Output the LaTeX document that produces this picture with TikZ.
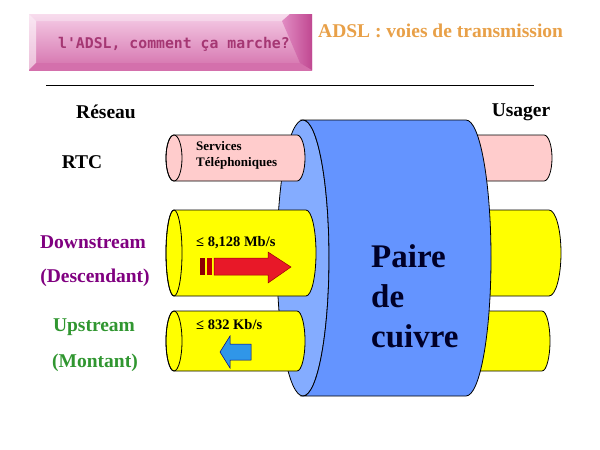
\documentclass[tikz,border=0pt]{standalone}
\usepackage{fontspec}
\setmainfont{Liberation Serif}
\newfontfamily\pixfont{DejaVu Sans Mono}
\usetikzlibrary{positioning}

\definecolor{titleOrange}{RGB}{232,160,72}
\definecolor{downPurple}{RGB}{128,0,128}
\definecolor{upGreen}{RGB}{48,150,48}
\definecolor{pairNavy}{RGB}{0,0,40}
\definecolor{tubePink}{RGB}{255,204,204}
\definecolor{tubeYellow}{RGB}{255,255,0}
\definecolor{bodyBlue}{RGB}{100,148,255}
\definecolor{capBlue}{RGB}{132,172,255}
\definecolor{arrowRed}{RGB}{232,24,40}
\definecolor{arrowBlue}{RGB}{48,150,232}
\definecolor{bannerText}{RGB}{165,55,115}
\definecolor{bannerLight}{RGB}{245,205,230}
\definecolor{bannerDark}{RGB}{212,112,172}
\definecolor{bannerMid}{RGB}{225,140,195}
\definecolor{bannerDeep}{RGB}{192,72,145}

\begin{document}
\begin{tikzpicture}
[x=1pt,y=-1pt,
  labelDecorate/.style={inner sep=0pt,font=\fontsize{19.5}{19.5}\selectfont\bfseries},%
  smallDecorate/.style={inner sep=0pt,anchor=west,font=\fontsize{13}{13}\selectfont\bfseries},%
  rateDecorate/.style={inner sep=0pt,anchor=west,font=\fontsize{14.5}{14.5}\selectfont\bfseries},%
  pairDecorate/.style={inner sep=0pt,anchor=west,text=pairNavy,font=\fontsize{33}{33}\selectfont\bfseries},%
  tubeDecorate/.style={draw=black,line width=0.8pt}]
\useasboundingbox (0,0) rectangle (600,450);
%% banner
\shade[top color=bannerLight,bottom color=bannerDark] (29,14) rectangle (312,70);
\fill[white,opacity=0.55] (29,14) -- (36,21) -- (36,63) -- (29,70) -- cycle;
\fill[white,opacity=0.3] (29,14) -- (290,14) -- (282,21) -- (36,21) -- cycle;
\fill[bannerDark] (29,70) -- (36,63) -- (300,63) -- (312,70) -- cycle;
\shade[left color=bannerMid,right color=bannerDeep] (282,21) -- (290,14) -- (312,14) -- (312,70) -- (300,63) -- cycle;
\node (Banner) at (174,44) [inner sep=0pt,text=bannerText,font=\fontsize{14.8}{14.8}\pixfont\bfseries] {l'ADSL, comment ça marche?};
\node (Title) at (318,31) [inner sep=0pt,anchor=west,text=titleOrange,font=\fontsize{19.5}{19.5}\selectfont\bfseries] {ADSL : voies de transmission};
\coordinate (RuleLeft) at (46,85);
\coordinate (RuleRight) at (534,85);
\draw[line width=0.8pt] (RuleLeft) -- (RuleRight);
%% side labels
\foreach \nodename/\x/\y/\col/\txt in {
  Reseau/106/112/black/Réseau, Usager/521/112/black/Usager,
  RTC/82/162/black/RTC, Downstream/93/242/downPurple/Downstream,
  Descendant/95/278/downPurple/(Descendant), Upstream/94/327/upGreen/Upstream,
  Montant/95/363/upGreen/(Montant)}
{
  \node (\nodename) at (\x,\y) [labelDecorate,text=\col] {\txt};
}
%% tubes behind the pair (user side)
\foreach \y/\r/\xr/\rx/\col in {158/23/544/8/tubePink, 253/43/549/12/tubeYellow, 341/30/542/8/tubeYellow}
{
  \filldraw[tubeDecorate,fill=\col] (440,{\y-\r}) -- (\xr,{\y-\r})
    arc[start angle=-90,end angle=90,x radius=\rx,y radius=\r] -- (440,{\y+\r}) -- cycle;
}
%% copper pair
\filldraw[tubeDecorate,fill=capBlue] (303,258) ellipse[x radius=26,y radius=138];
\filldraw[tubeDecorate,fill=bodyBlue] (303,120) -- (466,120)
  arc[start angle=-90,end angle=90,x radius=25,y radius=138] -- (303,396)
  arc[start angle=90,end angle=-90,x radius=26,y radius=138] -- cycle;
\node (Paire) at (371,256) [pairDecorate] {Paire};
\node (De) at (371,296) [pairDecorate] {de};
\node (Cuivre) at (371,336) [pairDecorate] {cuivre};
%% tubes in front of the pair (network side)
\foreach \y/\r/\xr/\rx/\col in {158/23/297/8/tubePink, 253/43/306/10/tubeYellow, 341/30/297/8/tubeYellow}
{
  \filldraw[tubeDecorate,fill=\col] (174,{\y-\r}) -- (\xr,{\y-\r})
    arc[start angle=-90,end angle=90,x radius=\rx,y radius=\r] -- (174,{\y+\r})
    arc[start angle=90,end angle=270,x radius=8,y radius=\r] -- cycle;
  \draw[tubeDecorate] (174,\y) ellipse[x radius=8,y radius=\r];
}
\node (Services) at (196,146) [smallDecorate] {Services};
\node (Telephoniques) at (196,163) [smallDecorate] {Téléphoniques};
\node (DownRate) at (196,243) [rateDecorate] {≤ 8,128 Mb/s};
\node (UpRate) at (196,325) [rateDecorate] {≤ 832 Kb/s};
%% arrows
\fill[red!55!black] (200,258) rectangle (205,275);
\fill[red!75!black] (207,258) rectangle (212,275);
\filldraw[fill=arrowRed,draw=red!60!black,line width=0.5pt] (214,258) -- (268,258) -- (268,252) -- (291,267)
  -- (268,283) -- (268,275) -- (214,275) -- cycle;
\filldraw[fill=arrowBlue,draw=blue!50!black,line width=0.5pt] (251,344) -- (230,344) -- (230,336) -- (220,352)
  -- (230,368) -- (230,360) -- (251,360) -- cycle;
\end{tikzpicture}
\end{document}
